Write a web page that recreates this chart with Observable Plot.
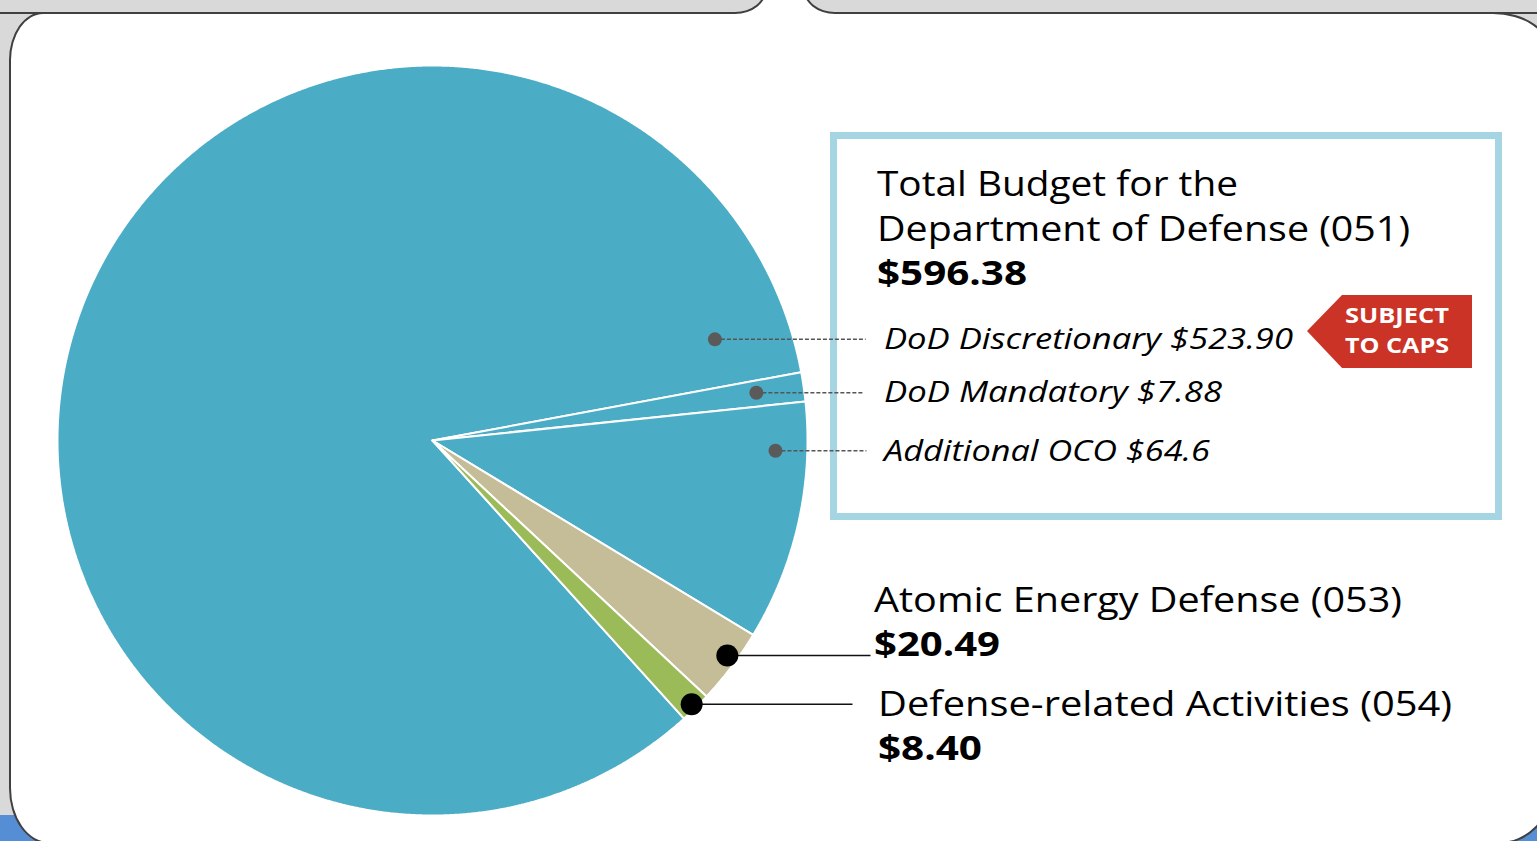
<!DOCTYPE html>
<html><head><meta charset="utf-8">
<script src="https://cdn.jsdelivr.net/npm/d3@7"></script>
<script src="https://cdn.jsdelivr.net/npm/@observablehq/plot@0.6"></script>
<style>
html,body{margin:0;padding:0;width:1537px;height:841px;overflow:hidden;background:#d9d9d9;}
#stage{position:relative;width:1537px;height:841px;overflow:hidden;}
.abs{position:absolute;box-sizing:border-box;}
#chart{position:absolute;left:0;top:0;}
</style></head><body><div id="stage">
<div class="abs" style="left:0;top:815px;width:1537px;height:30px;background:#558ed5"></div>
<div class="abs" style="left:9px;top:12px;width:1542px;height:832px;background:#fff;border:2px solid #404040;border-radius:34px 58px 52px 40px / 48px 40px 52px 56px"></div>
<div class="abs" style="left:725px;top:0;width:120px;height:14px;background:#fff"></div>
<div class="abs" style="left:-50px;top:-40px;width:817px;height:54px;background:#d9d9d9;border:2px solid #404040;border-bottom-right-radius:32px 26px"></div>
<div class="abs" style="left:803px;top:-40px;width:800px;height:54px;background:#d9d9d9;border:2px solid #404040;border-bottom-left-radius:32px 26px"></div>
<div id="chart"></div>
</div>
<script>
// ---- data ----
const categories = ["DoD Discretionary", "DoD Mandatory", "Additional OCO", "Atomic Energy Defense (053)", "Defense-related Activities (054)"];
const values = [523.90, 7.88, 64.6, 20.49, 8.40];
const valueLabels = ["$523.90", "$7.88", "$64.6", "$20.49", "$8.40"];
const sliceColors = ["#4BACC6", "#4BACC6", "#4BACC6", "#C4BD97", "#9BBB59"];
const totalTitle = ["Total Budget for the", "Department of Defense (051)"];
const totalValue = "$596.38";
const tagLines = ["SUBJECT", "TO CAPS"];

// ---- layout ----
const W = 1537, H = 841, CX = 432, CY = 440, R = 375;
const startDeg = 137.87; // rotation of the pie (d3 angle convention)
// leader anchors: angle (deg, clockwise from top), radius fraction, end of leader in radius units
const leaders = [
  {i: 0, a: 70.3, rf: 0.80, end: 1.155},
  {i: 1, a: 81.6, rf: 0.873, end: 1.147},
  {i: 2, a: 91.7, rf: 0.915, end: 1.157},
  {i: 3, a: 126.1, rf: 0.973, end: 1.168},
  {i: 4, a: 135.5, rf: 0.986, end: 1.12}
].map(d => {
  const t = d.a * Math.PI / 180;
  return {...d, x: d.rf * Math.sin(t), y: d.rf * Math.cos(t)};
});

const rows = categories.map((c, i) => ({name: c, value: values[i], color: sliceColors[i]}));
const st = startDeg * Math.PI / 180;
const arcs = d3.pie().sort(null).value(d => d.value).startAngle(st).endAngle(st + 2 * Math.PI)(rows);
const slicePts = arcs.map((a, i) => {
  const n = Math.max(2, Math.ceil((a.endAngle - a.startAngle) / (Math.PI / 720)));
  const p = [{x: 0, y: 0}];
  for (let j = 0; j <= n; j++) {
    const t = a.startAngle + (a.endAngle - a.startAngle) * j / n;
    p.push({x: Math.sin(t), y: Math.cos(t)});
  }
  p.push({x: 0, y: 0});
  return p;
});

const marks = slicePts.map((p, i) => Plot.line(p, {x: "x", y: "y", fill: sliceColors[i], stroke: "white", strokeWidth: 2, strokeLinejoin: "miter", curve: "linear"}));
const dashed = leaders.filter(d => d.i < 3), solid = leaders.filter(d => d.i >= 3);
marks.push(
  Plot.link(dashed, {x1: "x", y1: "y", x2: "end", y2: "y", stroke: "#555", strokeWidth: 1.5, strokeDasharray: "4,2"}),
  Plot.dot(dashed, {x: "x", y: "y", r: 7, fill: "#5a5a5a", stroke: "none"}),
  Plot.link(solid, {x1: "x", y1: "y", x2: "end", y2: "y", stroke: "#111", strokeWidth: 1.6}),
  Plot.dot(solid, {x: "x", y: "y", r: 11, fill: "#000", stroke: "none"})
);

const svg = Plot.plot({
  width: W, height: H,
  margin: 0,
  x: {domain: [-CX / R, (W - CX) / R], axis: null},
  y: {domain: [-(H - CY) / R, CY / R], axis: null},
  style: {background: "transparent", overflow: "visible", fontFamily: "'Open Sans', sans-serif"},
  marks
});
document.getElementById("chart").appendChild(svg);

const s = d3.select(svg);
// annotation box (under leaders)
const under = s.insert("g", ":first-child");
under.append("rect").attr("x", 833.5).attr("y", 135.5).attr("width", 665).attr("height", 381)
  .attr("fill", "#fff").attr("stroke", "#A5D5E2").attr("stroke-width", 7);

const over = s.append("g").attr("font-family", "'Open Sans', sans-serif").attr("text-anchor", "start");
function txt(str, x, y, size, opts = {}) {
  const t = over.append("text").attr("x", x).attr("y", y).attr("font-size", size)
    .attr("text-anchor", "start")
    .attr("fill", opts.fill || "#000").attr("font-weight", opts.weight || "normal")
    .attr("font-style", opts.style || "normal").text(str);
  if (opts.w) t.attr("textLength", opts.w).attr("lengthAdjust", "spacingAndGlyphs");
  return t;
}
// tag
over.append("polygon").attr("points", "1307,331 1342,295 1472,295 1472,368 1342,368").attr("fill", "#CB3327");
txt(tagLines[0], 1345, 323, 21, {weight: "bold", fill: "#fff", w: 104});
txt(tagLines[1], 1345, 353, 21, {weight: "bold", fill: "#fff", w: 104});

const big = 34;
txt(totalTitle[0], 877, 196, big, {w: 361});
txt(totalTitle[1], 877, 241, big, {w: 533});
txt(totalValue, 877, 285, big, {weight: "bold", w: 150});
txt(categories[0] + " " + valueLabels[0], 884, 349, 30, {style: "italic", w: 409});
txt(categories[1] + " " + valueLabels[1], 884, 402, 30, {style: "italic", w: 338});
txt(categories[2] + " " + valueLabels[2], 884, 461, 30, {style: "italic", w: 326});
txt(categories[3], 874, 612, big, {w: 528});
txt(valueLabels[3], 874, 656, big, {weight: "bold", w: 126});
txt(categories[4], 878, 716, big, {w: 574});
txt(valueLabels[4], 878, 760, big, {weight: "bold", w: 104});
</script>
</body></html>
